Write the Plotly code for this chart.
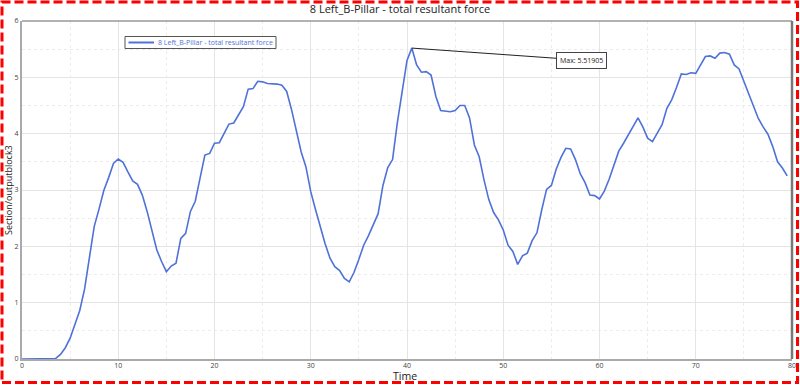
import plotly.graph_objects as go

time = [i * 0.5 for i in range(160)]
force = [0, 0, 0, 0, 0, 0, 0, 0.01, 0.08, 0.2,
         0.37, 0.6, 0.86, 1.24, 1.8, 2.35, 2.66, 2.99, 3.22, 3.47,
         3.55, 3.49, 3.32, 3.16, 3.1, 2.91, 2.62, 2.3, 1.94, 1.73,
         1.55, 1.65, 1.7, 2.14, 2.23, 2.62, 2.8, 3.21, 3.62, 3.65,
         3.83, 3.84, 4.01, 4.17, 4.19, 4.33, 4.48, 4.79, 4.80, 4.93,
         4.92, 4.89, 4.89, 4.88, 4.86, 4.75, 4.43, 4.06, 3.68, 3.41,
         2.97, 2.65, 2.34, 2.04, 1.79, 1.64, 1.57, 1.43, 1.37, 1.54,
         1.77, 2.02, 2.19, 2.38, 2.58, 3.08, 3.4, 3.54, 4.2, 4.75,
         5.3, 5.51905, 5.22, 5.09, 5.1, 5.04, 4.66, 4.41, 4.40, 4.39,
         4.41, 4.50, 4.50, 4.28, 3.80, 3.59, 3.18, 2.83, 2.6, 2.47,
         2.29, 2.02, 1.91, 1.68, 1.83, 1.88, 2.1, 2.24, 2.65, 3.01,
         3.08, 3.37, 3.58, 3.74, 3.73, 3.54, 3.29, 3.13, 2.91, 2.90,
         2.84, 2.98, 3.19, 3.44, 3.69, 3.83, 3.98, 4.14, 4.28, 4.12,
         3.92, 3.86, 4.01, 4.16, 4.45, 4.60, 4.82, 5.06, 5.05, 5.08,
         5.07, 5.21, 5.37, 5.38, 5.34, 5.43, 5.44, 5.41, 5.22, 5.15,
         4.93, 4.71, 4.48, 4.27, 4.12, 3.99, 3.77, 3.50, 3.39, 3.25]
series_name = "8 Left_B-Pillar - total resultant force"
x_title = "Time"
y_title = "Section/outputblock3"
x_ticks = [0, 10, 20, 30, 40, 50, 60, 70, 80]
y_ticks = [0, 1, 2, 3, 4, 5, 6]

imax = max(range(len(force)), key=lambda i: force[i])
line_color = "#4f72d8"

# pixel -> paper helpers (plot area: x 22..792, y 21..359)
def px(p):
    return (p - 22) / 770

def py(p):
    return (359 - p) / 338

fig = go.Figure()
fig.add_trace(go.Scatter(x=time, y=force, mode="lines", name=series_name,
                         line=dict(color=line_color, width=1.6), showlegend=False))

grid = "#e4e4e4"
fig.update_layout(
    width=800, height=385,
    margin=dict(l=22, r=8, t=21, b=26, autoexpand=False),
    paper_bgcolor="white", plot_bgcolor="white",
    font=dict(family="Open Sans, sans-serif", color="#333"),
    title=dict(text=series_name, x=0.5, xanchor="center", y=0.977, yanchor="middle",
               font=dict(size=11, color="#222")),
    showlegend=False,
    xaxis=dict(range=[0, 80], tickvals=x_ticks, showgrid=True, gridcolor=grid, gridwidth=1,
               minor=dict(dtick=5, showgrid=True, gridcolor="#ececec", griddash="dot"),
               showline=True, linecolor="#aaa", linewidth=2, zeroline=False,
               ticks="", ticklen=0, tickfont=dict(size=7, color="#444"), automargin=False,
               ticklabelstandoff=-1),
    yaxis=dict(range=[0, 6], tickvals=y_ticks, showgrid=True, gridcolor=grid, gridwidth=1,
               minor=dict(dtick=0.5, showgrid=True, gridcolor="#ececec", griddash="dot"),
               showline=True, linecolor="#aaa", linewidth=2, zeroline=False,
               ticks="", ticklen=0, tickfont=dict(size=7, color="#444"), automargin=False),
)

# axis titles
fig.add_annotation(text=x_title, xref="paper", yref="paper", x=px(405),
                   y=py(376), showarrow=False, yanchor="middle",
                   font=dict(size=10.5, color="#222"))
fig.add_annotation(text=y_title, xref="paper", yref="paper", x=px(8),
                   y=py(190), showarrow=False, textangle=-90,
                   xanchor="center", yanchor="middle", font=dict(size=9, color="#222"))

# legend box
fig.add_shape(type="rect", xref="paper", yref="paper", x0=px(125), x1=px(276),
              y0=py(48.5), y1=py(36.5), line=dict(color="#555", width=1),
              fillcolor="white", layer="above")
fig.add_shape(type="line", xref="paper", yref="paper", x0=px(128.5), x1=px(154),
              y0=py(42.5), y1=py(42.5), line=dict(color=line_color, width=2), layer="above")
fig.add_annotation(text=series_name, xref="paper", yref="paper", x=px(156), y=py(42.5),
                   xanchor="left", yanchor="middle", showarrow=False,
                   font=dict(size=7, color=line_color))

# plot frame (top) and right edge
fig.add_shape(type="line", xref="paper", yref="paper", x0=0, x1=1, y0=1, y1=1,
              line=dict(color="#999", width=1.5))
fig.add_shape(type="line", xref="paper", yref="paper", x0=1, x1=1, y0=0, y1=1,
              line=dict(color="#777", width=2.5))

# red dashed outer border
fig.add_shape(type="rect", xref="paper", yref="paper",
              x0=px(2), x1=px(797.5), y0=py(382.5), y1=py(2),
              line=dict(color="#ff0000", width=3, dash="9px,4px"), layer="above")

fig.add_annotation(x=time[imax], y=force[imax], text="Max: " + str(force[imax]),
                   showarrow=True, arrowhead=0, arrowwidth=1, arrowcolor="#222",
                   ax=170, ay=12, bordercolor="#444", borderwidth=1, borderpad=3,
                   bgcolor="white", font=dict(size=7, color="#222"))

fig.write_html("out.html", config={"displayModeBar": False},
               post_script="document.body.style.margin='0';document.body.style.overflow='hidden';")
